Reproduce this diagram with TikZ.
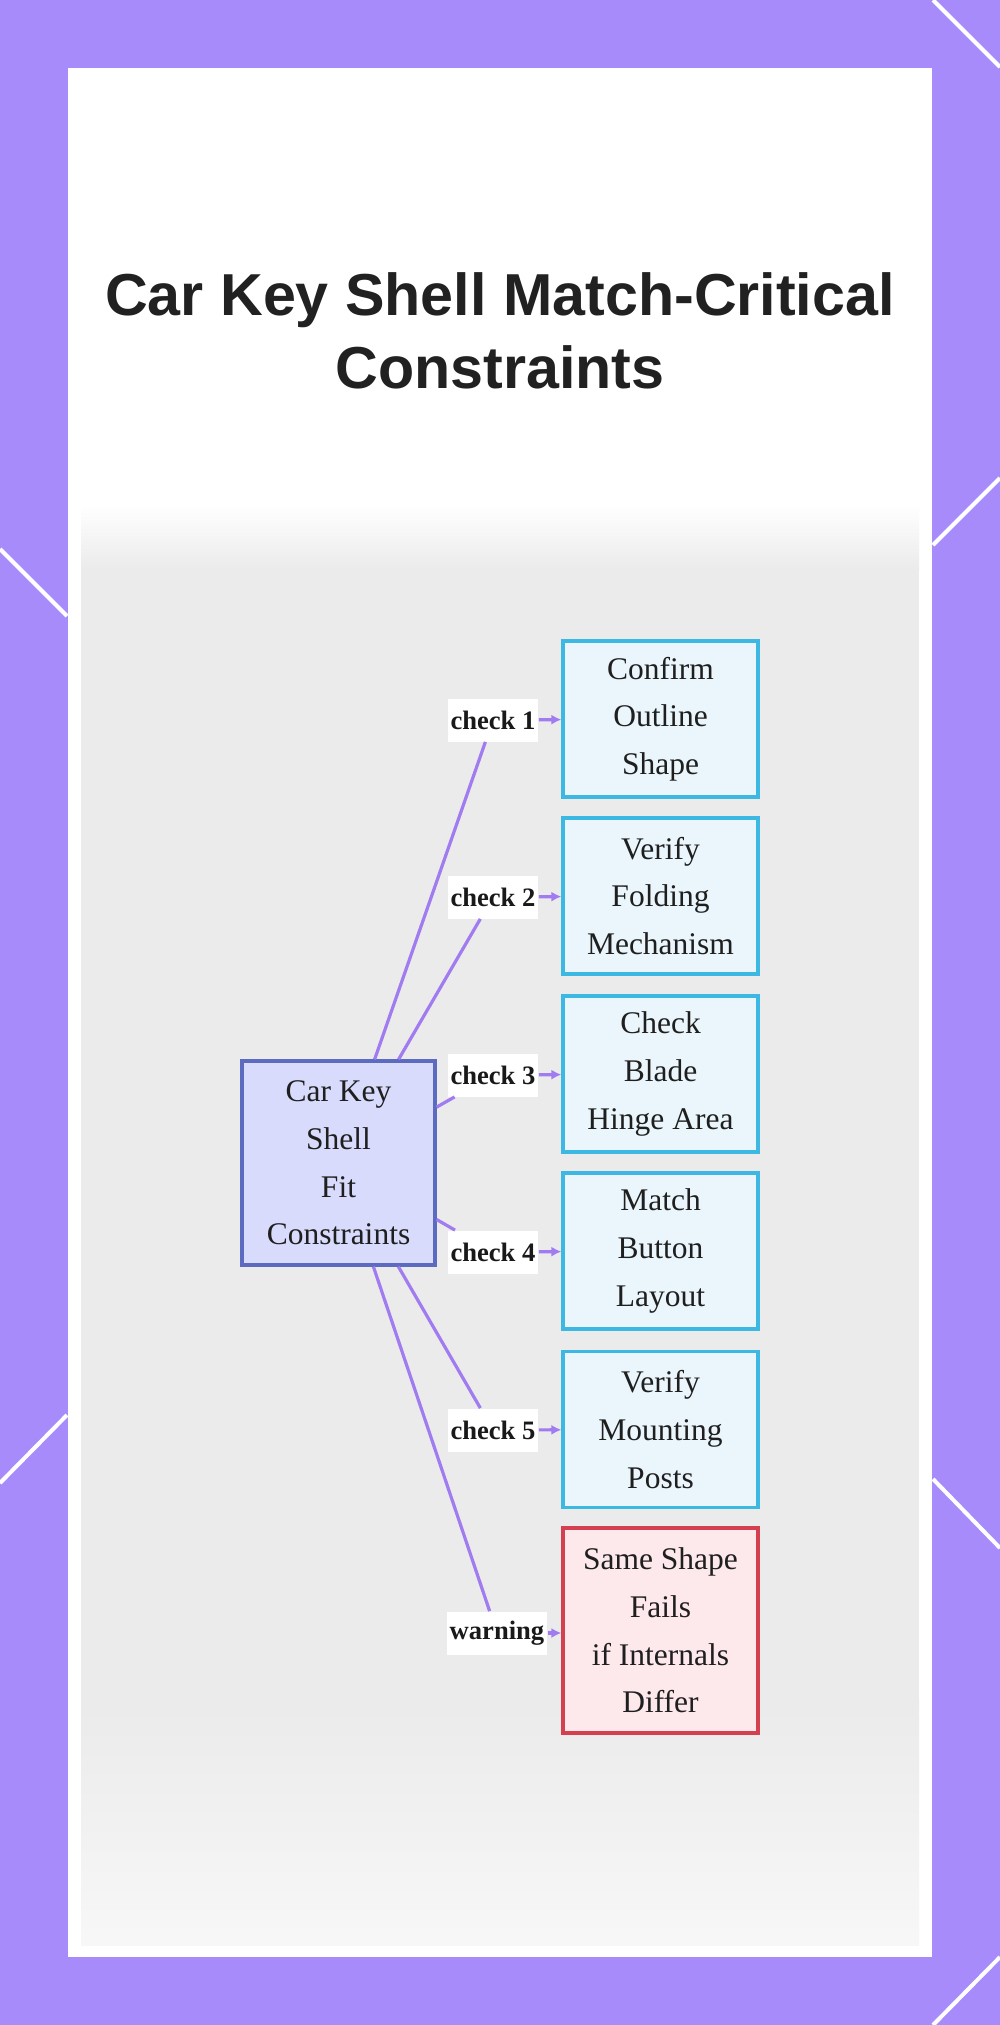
\documentclass[tikz,border=0pt]{standalone}
\usepackage{fontspec}
\setmainfont{Liberation Serif}
\newfontfamily\titlefont{Liberation Sans}
\usetikzlibrary{arrows.meta,positioning}
\definecolor{frame}{HTML}{A78BFA}
\definecolor{link}{HTML}{A07CF0}
\definecolor{hubfill}{HTML}{D8DBFB}
\definecolor{hubline}{HTML}{5C6BC0}
\definecolor{chkfill}{HTML}{EAF6FC}
\definecolor{chkline}{HTML}{3DB8E3}
\definecolor{warnfill}{HTML}{FDE8EB}
\definecolor{warnline}{HTML}{D4404F}

\begin{document}
\begin{tikzpicture}[x=0.5pt,y=-0.5pt,
  txt/.style={align=center,text=black!88,font=\fontsize{15.75}{23.8}\selectfont},
  hub/.style={txt,draw=hubline,fill=hubfill,line width=1.6pt,minimum width=96.5pt,minimum height=102pt},
  chk/.style={txt,draw=chkline,fill=chkfill,line width=1.6pt,minimum width=97.5pt,minimum height=78pt},
  warn/.style={txt,draw=warnline,fill=warnfill,line width=1.6pt,minimum width=97.5pt,minimum height=102.5pt},
  lbl/.style={fill=white,text=black!90,inner xsep=1.5pt,minimum height=21.5pt,font=\bfseries\fontsize{13.3}{16}\selectfont},
  ln/.style={draw=link,line width=1.6pt},
  arr/.style={ln,-{Latex[length=5pt,width=5pt]}}]
\useasboundingbox (0,0) rectangle (1000,2025);
\fill[frame] (0,0) rectangle (1000,2025);
\draw[white,line width=2pt] (933,0) -- (1000,67);
\draw[white,line width=2pt] (1000,478) -- (933,545);
\draw[white,line width=2pt] (0,549) -- (67,616);
\draw[white,line width=2pt] (67,1415) -- (0,1483);
\draw[white,line width=2pt] (933,1479) -- (1000,1548);
\draw[white,line width=2pt] (933,2025) -- (1000,1957);
\fill[white] (68,68) rectangle (932,1957);
\shade[top color=white,bottom color=black!8] (81,505) rectangle (919,570);
\fill[black!8] (81,569) rectangle (919,1700);
\shade[top color=black!8,bottom color=black!3] (81,1699) rectangle (919,1945);

\node[font=\titlefont\bfseries\fontsize{29.6}{36.8}\selectfont,text=black!87,align=center] (title) at (500,331)
  {Car Key Shell Match-Critical\\Constraints};

\node[hub] (hub) at (338.5,1163) {Car Key\\Shell\\Fit\\Constraints};

\node[chk] (c1) at (660.5,719) {Confirm\\Outline\\Shape};
\node[chk] (c2) at (660.5,896) {Verify\\Folding\\Mechanism};
\node[chk] (c3) at (660.5,1074) {Check\\Blade\\Hinge Area};
\node[chk] (c4) at (660.5,1251) {Match\\Button\\Layout};
\node[chk] (c5) at (660.5,1429.5) {Verify\\Mounting\\Posts};
\node[warn] (w) at (660.5,1630.5) {Same Shape\\Fails\\if Internals\\Differ};

\node[lbl] (l1) at (493,720) {check 1};
\node[lbl] (l2) at (493,897) {check 2};
\node[lbl] (l3) at (493,1075) {check 3};
\node[lbl] (l4) at (493,1252) {check 4};
\node[lbl] (l5) at (493,1430) {check 5};
\node[lbl] (lw) at (497,1633) {warning};

\draw[ln] (hub) -- (l1);
\draw[ln] (hub) -- (l2);
\draw[ln] (hub) -- (l3);
\draw[ln] (hub) -- (l4);
\draw[ln] (hub) -- (l5);
\draw[ln] (hub) -- (lw);
\draw[arr] (l1) -- (c1);
\draw[arr] (l2) -- (c2);
\draw[arr] (l3) -- (c3);
\draw[arr] (l4) -- (c4);
\draw[arr] (l5) -- (c5);
\draw[arr] (lw.east) -- (w.west |- lw.east);
\end{tikzpicture}
\end{document}
